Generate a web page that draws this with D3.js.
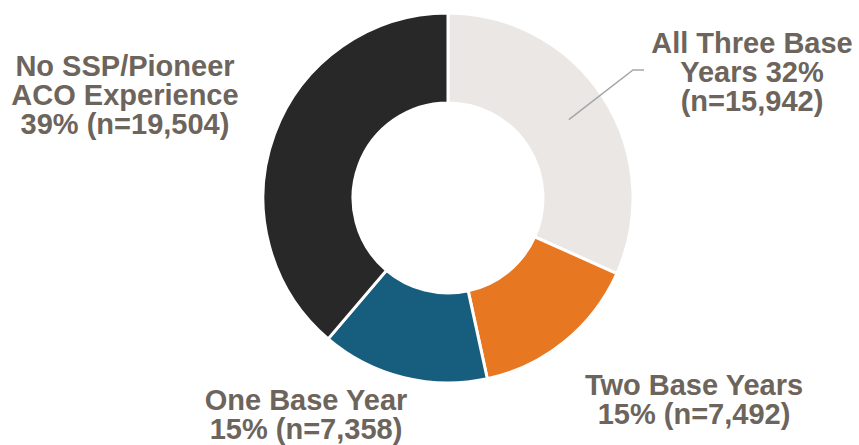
<!DOCTYPE html>
<html>
<head>
<meta charset="utf-8">
<script src="https://cdn.jsdelivr.net/npm/d3@7"></script>
<style>
  html, body { margin: 0; padding: 0; background: #ffffff; }
  svg { display: block; }
  text { font-family: "Liberation Sans", Arial, sans-serif; font-weight: bold; }
</style>
</head>
<body>
<svg id="chart" width="859" height="445"></svg>
<script>
// Beneficiaries by prior SSP/Pioneer ACO experience
const categories = [
  "All Three Base Years",
  "Two Base Years",
  "One Base Year",
  "No SSP/Pioneer ACO Experience"
];
const counts = [15942, 7492, 7358, 19504];
const colors = ["#ebe7e4", "#e87722", "#175e7e", "#282828"];

const total = d3.sum(counts);
const pct = v => d3.format(".0%")(v / total);
const num = d3.format(",");

// Label text, split onto lines
const labelLines = [
  v => ["All Three Base", "Years " + pct(v), "(n=" + num(v) + ")"],
  v => ["Two Base Years", pct(v) + " (n=" + num(v) + ")"],
  v => ["One Base Year", pct(v) + " (n=" + num(v) + ")"],
  v => ["No SSP/Pioneer", "ACO Experience", pct(v) + " (n=" + num(v) + ")"]
];
// Label anchor points (centre x, first baseline y)
const labelPos = [
  [752, 53], [694, 395], [306, 410], [125, 76]
];

const svg = d3.select("#chart");
const cx = 448, cy = 198, outerR = 185, innerR = 95;

const pie = d3.pie().sort(null).value(d => d)(counts);
const arc = d3.arc().innerRadius(innerR).outerRadius(outerR);

const g = svg.append("g").attr("transform", `translate(${cx},${cy})`);
g.selectAll("path")
  .data(pie)
  .join("path")
  .attr("d", arc)
  .attr("fill", (d, i) => colors[i])
  .attr("stroke", "#ffffff")
  .attr("stroke-width", 3)
  .attr("stroke-linejoin", "miter");

// Leader line for the top-right slice
const a0 = pie[0];
const mid = (a0.startAngle + a0.endAngle) / 2;
const rIn = (innerR + outerR) / 2 + 4;
const p0 = [cx + Math.sin(mid) * rIn, cy - Math.cos(mid) * rIn];
svg.append("polyline")
  .attr("points", [p0, [633, 70], [644, 70]].map(p => p.join(",")).join(" "))
  .attr("fill", "none")
  .attr("stroke", "#a6a6a6")
  .attr("stroke-width", 1.5);

const lineH = 29;
categories.forEach((c, i) => {
  const t = svg.append("text")
    .attr("x", labelPos[i][0])
    .attr("y", labelPos[i][1])
    .attr("text-anchor", "middle")
    .attr("font-size", 29)
    .attr("fill", "#6d645c");
  labelLines[i](counts[i]).forEach((ln, j) => {
    t.append("tspan")
      .attr("x", labelPos[i][0])
      .attr("dy", j === 0 ? 0 : lineH)
      .text(ln);
  });
});
</script>
</body>
</html>
